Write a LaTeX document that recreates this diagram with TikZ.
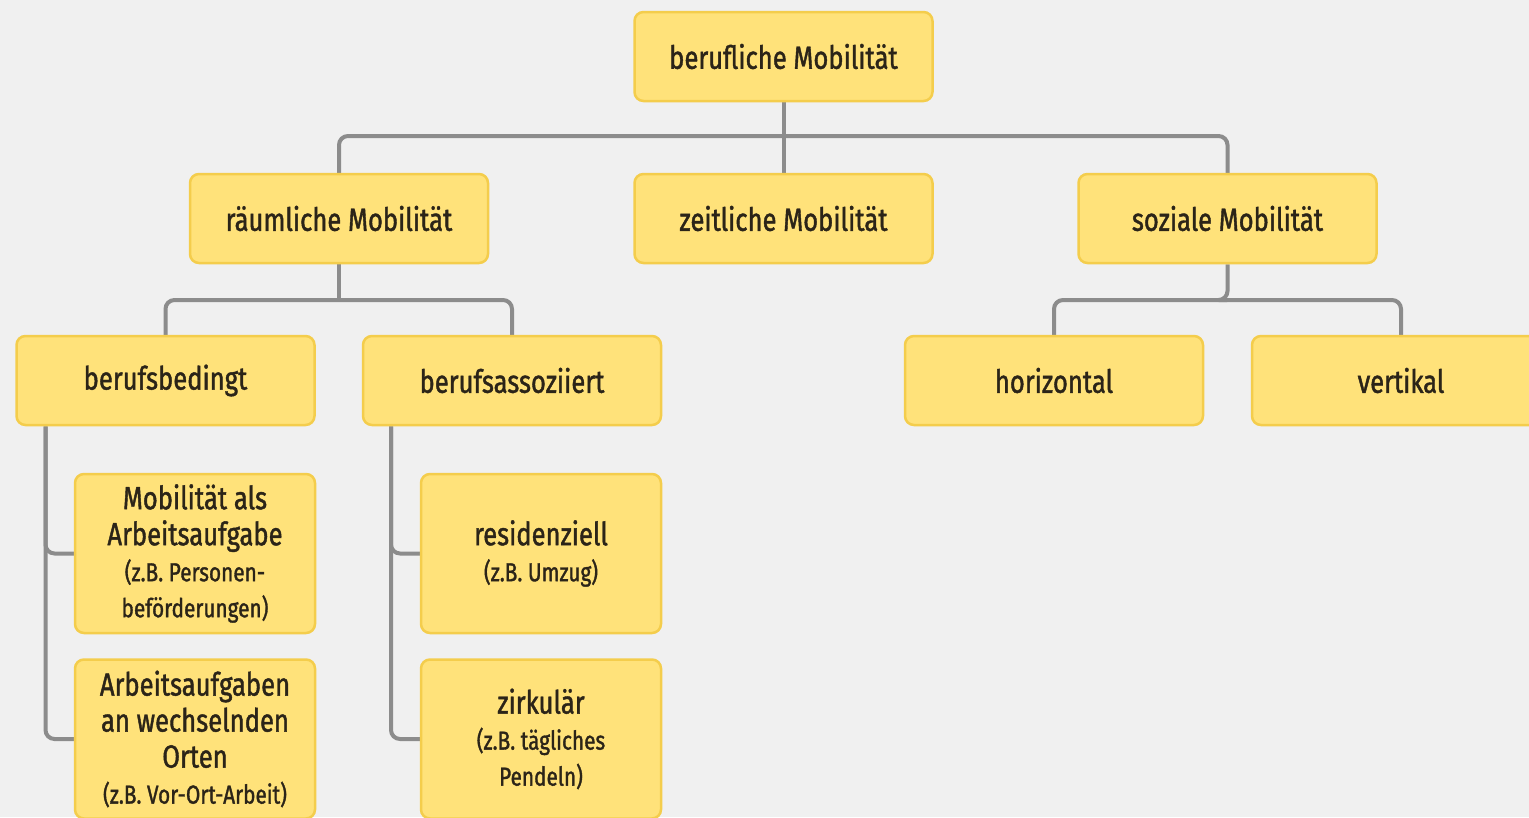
\documentclass[tikz,border=0pt]{standalone}
\usepackage{fontspec}
\setmainfont{Fira Sans}[FakeStretch=0.8, FakeBold=1.3]
\usetikzlibrary{calc}
\pgfdeclarelayer{back}
\pgfsetlayers{back,main}
\definecolor{bg}{HTML}{F0F0F0}
\definecolor{boxfill}{HTML}{FFE27A}
\definecolor{boxedge}{HTML}{F4CD4C}
\definecolor{linec}{HTML}{8C8C8C}
\definecolor{txt}{HTML}{2B2418}
\tikzset{
  ybox/.style={draw=boxedge, line width=2.5pt, fill=boxfill, rounded corners=9pt,
    text=txt, align=center, inner sep=0pt, font=\fontsize{32}{36}\selectfont},
  wide/.style={minimum width=298pt, minimum height=89pt},
  tall/.style={minimum width=240pt, minimum height=159pt},
  conn/.style={draw=linec, line width=4pt, rounded corners=9pt},
}
\newcommand{\sm}[1]{{\fontsize{26}{33}\selectfont #1}}
\begin{document}
\begin{tikzpicture}[x=1pt,y=-1pt]
\useasboundingbox (0,0) rectangle (1529,817);
\begin{scope}
\clip (0,0) rectangle (1529,817);
\coordinate (j1) at (783.5,136);
\coordinate (j2) at (339,300);
\coordinate (j3) at (1227,300);
\node[ybox,wide] (top) at (783.5,56.5) {berufliche Mobilität};
\node[ybox,wide] (raum) at (339,218.5) {räumliche Mobilität};
\node[ybox,wide] (zeit) at (783.5,218.5) {zeitliche Mobilität};
\node[ybox,wide] (soz) at (1227.5,218.5) {soziale Mobilität};
\node[ybox,wide] (bb) at (165.5,380.5) {berufsbedingt\vphantom{ä}};
\node[ybox,wide] (ba) at (512,380.5) {berufsassoziiert};
\node[ybox,wide] (hor) at (1054,380.5) {horizontal};
\node[ybox,wide] (ver) at (1401,380.5) {vertikal};
\node[ybox,tall] (mob) at (195,553.5) {Mobilität als\\Arbeitsaufgabe\\\sm{(z.B. Personen-}\\\sm{beförderungen)}};
\node[ybox,tall] (res) at (541,553.5) {residenziell\\\sm{(z.B. Umzug)}};
\node[ybox,tall] (arb) at (195,739) {Arbeitsaufgaben\\an wechselnden\\Orten\\\sm{(z.B. Vor-Ort-Arbeit)}};
\node[ybox,tall] (zirk) at (541,739) {zirkulär\\\sm{(z.B. tägliches}\\\sm{Pendeln)}};
\begin{pgfonlayer}{back}
\fill[bg] (0,0) rectangle (1529,817);
\draw[conn] (top.south) -- (j1);
\draw[conn] (raum.north) |- (j1) -| (soz.north);
\draw[conn] (j1) -- (zeit.north);
\draw[conn] (raum.south) |- (j2);
\draw[conn] (bb.north) |- (j2) -| (ba.north);
\draw[conn] (soz.south) |- (j3);
\draw[conn] (hor.north) |- (j3) -| (ver.north);
\draw[conn] ([xshift=-120pt]bb.south) |- (mob.west);
\draw[conn] ([xshift=-120pt]bb.south) |- (arb.west);
\draw[conn] ([xshift=-121pt]ba.south) |- (res.west);
\draw[conn] ([xshift=-121pt]ba.south) |- (zirk.west);
\end{pgfonlayer}
\end{scope}
\end{tikzpicture}
\end{document}
